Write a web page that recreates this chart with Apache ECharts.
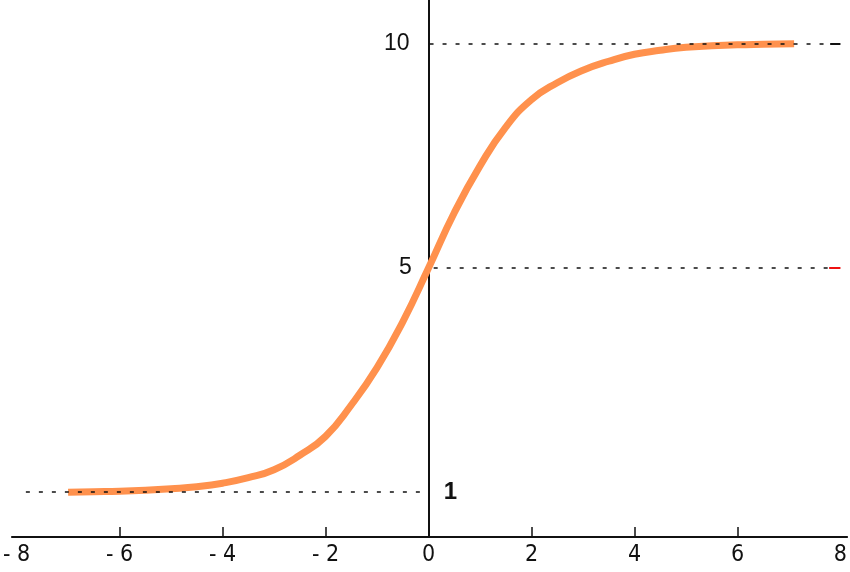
<!DOCTYPE html>
<html>
<head>
<meta charset="utf-8">
<script src="https://cdn.jsdelivr.net/npm/echarts@6/dist/echarts.min.js"></script>
<style>html,body{margin:0;padding:0;background:#fff;}#c{width:850px;height:572px;}</style>
</head>
<body>
<div id="c"></div>
<script>
// Curve samples
const xValues = [-7, -6.5, -6, -5.5, -5, -4.5, -4, -3.5, -3, -2.5, -2, -1.5, -1, -0.5, 0, 0.5, 1, 1.5, 2, 2.5, 3, 3.5, 4, 4.5, 5, 5.5, 6, 6.5, 7.1];
const yValues = [1.0, 1.01, 1.02, 1.04, 1.07, 1.11, 1.18, 1.29, 1.45, 1.74, 2.12, 2.75, 3.5, 4.42, 5.5, 6.61, 7.55, 8.33, 8.88, 9.22, 9.47, 9.65, 9.79, 9.87, 9.93, 9.96, 9.98, 9.99, 10.0];
// Tick labels
const xTickValues = [-8, -6, -4, -2, 0, 2, 4, 6, 8];
const xTickMarks = [-6, -4, -2, 2, 4, 6];
// Reference levels: value on the axis and the label written next to it
const levelValues = [10, 5.5, 1];
const levelLabels = ['10', '5', '1'];

const chart = echarts.init(document.getElementById('c'));
const dashStyle = {color: '#111', width: 1.6, type: [4, 9]};
const lineData = xValues.map((x, i) => [x, yValues[i]]);
const labelFont = "'Liberation Sans', Arial, sans-serif";

const markData = [
  [{coord: [0.02, levelValues[0]], label: {show: true, position: 'start', formatter: levelLabels[0], distance: 20, fontFamily: labelFont, fontSize: 23, color: '#111'}}, {coord: [7.8, levelValues[0]]}],
  [{coord: [7.8, levelValues[0]], lineStyle: {color: '#111', width: 2, type: 'solid'}}, {coord: [8.0, levelValues[0]]}],
  [{coord: [0.1, levelValues[1]], label: {show: true, position: 'start', formatter: levelLabels[1], distance: 22, fontFamily: labelFont, fontSize: 23, color: '#111'}}, {coord: [7.78, levelValues[1]]}],
  [{coord: [7.78, levelValues[1]], lineStyle: {color: '#ee1111', width: 2, type: 'solid'}}, {coord: [8.0, levelValues[1]]}],
  [{coord: [-7.82, levelValues[2]]}, {coord: [-0.13, levelValues[2]], label: {show: true, position: 'end', formatter: levelLabels[2], distance: 22, fontFamily: labelFont, fontSize: 24, fontWeight: 'bold', color: '#111'}}]
];

chart.setOption({
  animation: false,
  backgroundColor: '#fff',
  grid: {left: 8, right: 2, top: 0, bottom: 35, containLabel: false},
  xAxis: {
    type: 'value', min: -8.09, max: 8.13,
    splitLine: {show: false},
    axisLine: {onZero: false, lineStyle: {color: '#111', width: 2}},
    axisTick: {inside: true, length: 10, customValues: xTickMarks, lineStyle: {color: '#111', width: 1.5}},
    axisLabel: {
      customValues: xTickValues, margin: 7,
      fontFamily: "'Liberation Sans Narrow', 'DejaVu Sans Condensed', sans-serif",
      fontSize: 23, color: '#111',
      formatter: v => v < 0 ? '- ' + (-v) : String(v)
    }
  },
  yAxis: {
    type: 'value', min: 0.1, max: 10.88,
    splitLine: {show: false},
    axisLine: {show: true, onZero: true, lineStyle: {color: '#111', width: 2}},
    axisTick: {show: false},
    axisLabel: {show: false}
  },
  series: [{
    type: 'line',
    data: lineData,
    smooth: true,
    showSymbol: false,
    lineStyle: {color: '#FF914D', width: 7, cap: 'butt'},
    markLine: {
      silent: true,
      symbol: 'none',
      lineStyle: dashStyle,
      label: {show: false},
      data: markData
    },
    z: 3
  }]
});
</script>
</body>
</html>
